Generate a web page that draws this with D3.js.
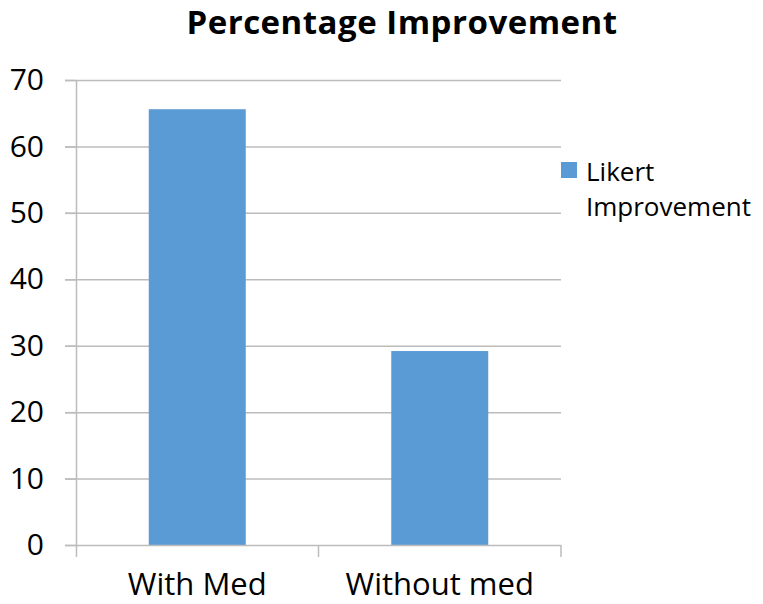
<!DOCTYPE html>
<html>
<head>
<meta charset="utf-8">
<script src="https://cdn.jsdelivr.net/npm/d3@7"></script>
<style>
  html, body { margin: 0; padding: 0; background: #fff; }
  svg { display: block; font-family: "Open Sans", sans-serif; }
</style>
</head>
<body>
<svg id="chart" width="763" height="604"></svg>
<script>
const categories = ["With Med", "Without med"];
const values = [65.6, 29.2];
const seriesName = ["Likert", "Improvement"];
const yTicks = [0, 10, 20, 30, 40, 50, 60, 70];
const title = "Percentage Improvement";

const svg = d3.select("#chart");
const plot = { left: 76, right: 561, top: 80, bottom: 545 };

const x = d3.scaleBand().domain(categories).range([plot.left, plot.right]).paddingInner(0.6).paddingOuter(0.3);
const xb = d3.scaleBand().domain(categories).range([plot.left, plot.right]);
const y = d3.scaleLinear().domain([0, 70]).range([plot.bottom, plot.top]);

// gridlines
svg.append("g").selectAll("line").data(yTicks.filter(d => d > 0)).join("line")
  .attr("x1", plot.left - 11).attr("x2", plot.right)
  .attr("y1", d => y(d) + 0.5).attr("y2", d => y(d) + 0.5)
  .attr("stroke", "#bcbcbc").attr("stroke-width", 1.5);

// bars
svg.append("g").selectAll("rect").data(values).join("rect")
  .attr("x", (d, i) => x(categories[i]))
  .attr("width", x.bandwidth())
  .attr("y", d => y(d))
  .attr("height", d => y(0) - y(d))
  .attr("fill", "#5b9bd5");

// y axis
const yAxis = d3.axisLeft(y).tickValues(yTicks).tickSize(11).tickPadding(21);
const gy = svg.append("g").attr("transform", `translate(${plot.left},0)`).call(yAxis);
gy.select(".domain").attr("stroke", "#bcbcbc").attr("stroke-width", 1.5).attr("d", `M0.5,${plot.top}V${plot.bottom}`);
gy.selectAll(".tick line").attr("stroke", "#bcbcbc").attr("stroke-width", 1.5);
gy.selectAll(".tick text").attr("font-size", 30).attr("fill", "#000").attr("font-family", "Open Sans");

// x axis
const xAxis = d3.axisBottom(xb).tickSize(0).tickPadding(28);
const gx = svg.append("g").attr("transform", `translate(0,${plot.bottom})`).call(xAxis);
gx.select(".domain").attr("stroke", "#bcbcbc").attr("stroke-width", 1.5).attr("d", `M${plot.left - 11},0.5H${plot.right}`);
gx.selectAll(".tick text").attr("font-size", 31).attr("fill", "#000").attr("font-family", "Open Sans").attr("dy", "0.71em");
// category separators
svg.append("g").selectAll("line").data([plot.left + 0.5, xb(categories[1]), plot.right]).join("line")
  .attr("x1", d => d).attr("x2", d => d)
  .attr("y1", plot.bottom).attr("y2", plot.bottom + 12)
  .attr("stroke", "#bcbcbc").attr("stroke-width", 1.5);

// title
svg.append("text").attr("x", 402).attr("y", 34).attr("text-anchor", "middle")
  .attr("font-size", 33).attr("font-weight", "bold").attr("letter-spacing", 0.5).attr("fill", "#000").text(title);

// legend
svg.append("rect").attr("x", 561).attr("y", 162).attr("width", 16).attr("height", 16).attr("fill", "#5b9bd5");
svg.append("text").attr("x", 586).attr("y", 181).attr("font-size", 26).attr("fill", "#000").text(seriesName[0]);
svg.append("text").attr("x", 586).attr("y", 216).attr("font-size", 26).attr("fill", "#000").text(seriesName[1]);
</script>
</body>
</html>
